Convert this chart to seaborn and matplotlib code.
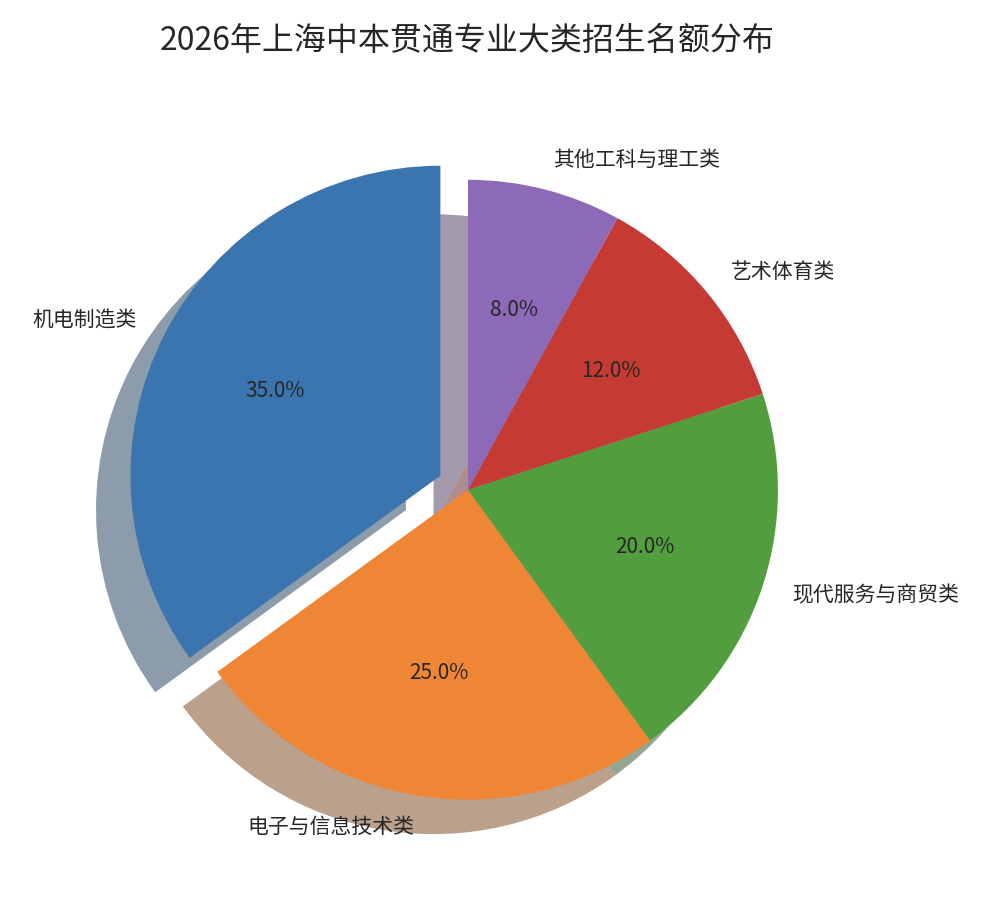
import matplotlib
matplotlib.use("Agg")
import matplotlib.pyplot as plt
import seaborn as sns

sns.set_theme(style="white")
plt.rcParams['font.family'] = ['Noto Sans CJK SC', 'DejaVu Sans']

categories = ["机电制造类", "电子与信息技术类", "现代服务与商贸类", "艺术体育类", "其他工科与理工类"]
shares = [35, 25, 20, 12, 8]
explode = [0.1, 0, 0, 0, 0]
colors = ["#3a75af", "#ef8636", "#529e3f", "#c53a32", "#8d6ab8"]

fig = plt.figure(figsize=(9.98, 9.02), dpi=100)
ax = fig.add_axes([0, 0, 1, 1])
ax.pie(shares, labels=categories, explode=explode, colors=colors,
       autopct="%1.1f%%", startangle=90,
       shadow={"ox": -0.08, "oy": -0.08, "shade": 0.5},
       wedgeprops={"linewidth": 0},
       textprops={"fontsize": 15}, labeldistance=1.1, pctdistance=0.6)
ax.set_xlim(-1.51, 1.71)
ax.set_ylim(-1.33, 1.58)
ax.set_aspect("equal")
ax.axis("off")
fig.text(0.468, 0.955, "2026年上海中本贯通专业大类招生名额分布", fontsize=23,
         ha="center", va="center")
plt.savefig("out.png", dpi=100)
